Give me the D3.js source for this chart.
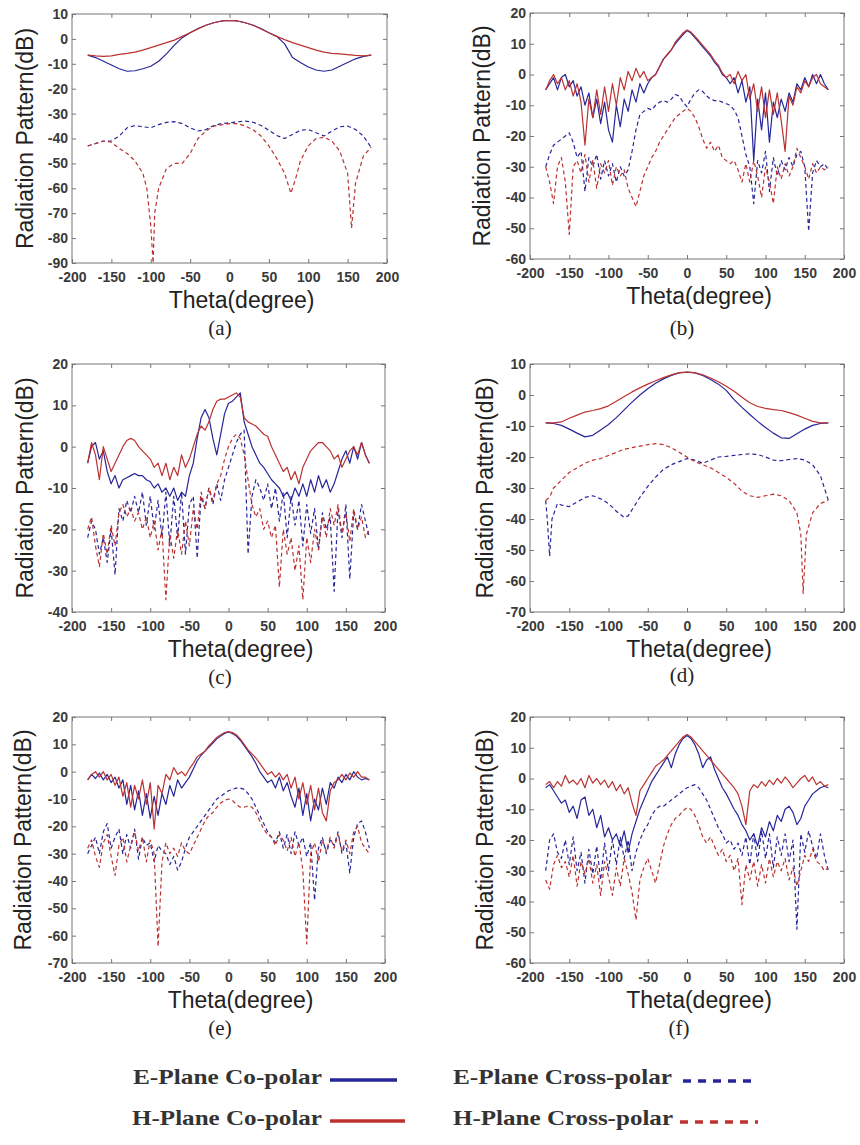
<!DOCTYPE html>
<html><head><meta charset="utf-8">
<script src="https://cdn.jsdelivr.net/npm/d3@7/dist/d3.min.js"></script>
<style>body{margin:0;background:#fff}</style></head>
<body><svg id="chart" width="860" height="1145"></svg>
<script>
// ---------- DATA ----------
const xTicks = [-200,-150,-100,-50,0,50,100,150,200];
const theta5 = [-180,-175,-170,-165,-160,-155,-150,-145,-140,-135,-130,-125,-120,-115,-110,-105,-100,-95,-90,-85,-80,-75,-70,-65,-60,-55,-50,-45,-40,-35,-30,-25,-20,-15,-10,-5,0,5,10,15,20,25,30,35,40,45,50,55,60,65,70,75,80,85,90,95,100,105,110,115,120,125,130,135,140,145,150,155,160,165,170,175,180];
const seriesNames = ['E-Plane Co-polar','H-Plane Co-polar','E-Plane Cross-polar','H-Plane Cross-polar'];
const captions = ['(a)','(b)','(c)','(d)','(e)','(f)'];
const yRanges = [[-90,10],[-60,20],[-40,20],[-70,10],[-70,20],[-60,20]];

// (a) [theta, dB]
const a_Eco = [[-180,-6.5],[-170,-7.5],[-160,-9],[-150,-10.5],[-140,-12],[-130,-13],[-120,-12.8],[-110,-12],[-100,-11],[-90,-9],[-80,-6],[-70,-2.5],[-60,0.5],[-50,2.5],[-40,4.2],[-30,5.5],[-20,6.5],[-10,7.2],[0,7.4],[10,7.2],[20,6.5],[30,5.5],[40,4.2],[50,2.5],[60,1],[70,-2],[80,-7.5],[90,-9.5],[100,-11.3],[110,-12.5],[120,-13],[130,-12.5],[140,-11],[150,-9.5],[160,-8],[170,-7],[180,-6.5]];
const a_Hco = [[-180,-6.5],[-170,-6.8],[-160,-7],[-150,-6.8],[-140,-6.2],[-130,-5.8],[-120,-5.3],[-110,-4.5],[-100,-3.5],[-90,-2.5],[-80,-1.5],[-70,-0.5],[-60,1],[-50,2.5],[-40,4],[-30,5.5],[-20,6.5],[-10,7.2],[0,7.4],[10,7.2],[20,6.5],[30,5.5],[40,4],[50,2.5],[60,1],[70,-0.3],[80,-1.5],[90,-2.5],[100,-3.5],[110,-4.5],[120,-5.3],[130,-5.8],[140,-6],[150,-6.3],[160,-6.6],[170,-6.8],[180,-6.5]];
const a_Ex = [[-180,-43],[-170,-42],[-160,-41],[-150,-41],[-140,-39],[-130,-35.7],[-120,-34.8],[-110,-35.3],[-100,-35.7],[-90,-34.4],[-80,-33.5],[-70,-33.2],[-60,-34],[-50,-35.7],[-40,-37],[-30,-36.4],[-20,-34.8],[-10,-34],[0,-33.7],[10,-33.3],[20,-33],[30,-33.5],[40,-34.8],[50,-36.7],[60,-38.8],[70,-40],[80,-38.4],[90,-36.7],[100,-36.4],[110,-37.7],[120,-39],[130,-37],[140,-35.3],[150,-35],[160,-36.4],[170,-39],[180,-43.7]];
const a_Hx = [[-180,-43],[-170,-42],[-160,-41],[-150,-41.5],[-140,-44],[-130,-46],[-120,-49],[-110,-54],[-105,-60],[-100,-75],[-97,-90],[-95,-70],[-90,-60],[-80,-52],[-70,-50],[-60,-50],[-50,-46],[-40,-40],[-30,-37],[-20,-35],[-10,-34.5],[0,-34],[10,-34],[20,-35],[30,-36.5],[40,-39],[50,-43],[60,-48],[70,-54],[78,-62],[85,-55],[90,-49],[100,-43],[110,-40],[120,-39.5],[130,-41],[140,-45],[150,-54],[155,-76],[160,-58],[170,-47],[180,-43.5]];

// (b) values on theta5
const b_Eco = [-5,-3,-1,-5,-1,0,-4,-2,-7, -4,-10,-6,-14,-8,-16,-9,-18,-22, -10,-17,-8,-12,-5,-9,-3,-6,-3, -1,0,2.5,5,6.5,8,10,11.5,13, 14.3,13.5,12,10.5,9,7.5,6,4,2.5, 0,-1,-3,-1,-6,-2,-9,-4,-28, -8,-18,-6,-22,-9,-14,-8,-12,-6, -9,-3,-5,-1,-4,0,-3,0,-3, -5];
const b_Hco = [-5,-2,0,-3,-1,-5,-2,-7,-3, -9,-23,-8,-14,-5,-13,-4,-12,-3, -10,-1,-5,1,-2,2,-1,1,-2, -1,0,2.5,5,6.5,8,10.5,12,13.5, 14.5,13.8,12.5,11,9.5,8,6.5,4.5,3, 0.5,-1,0,-3,1,-2,0,-8,-3, -12,-4,-14,-5,-13,-6,-15,-25,-7, -10,-4,-6,-2,-4,-1,0,-3,-4, -5];
const b_Ex = [-30,-26,-23,-22,-21,-20,-19,-22,-27, -25,-38,-27,-30,-26,-34,-28,-33,-29, -35,-30,-33,-31,-25,-18,-13,-12,-11, -11.5,-10,-9,-8.5,-9,-8,-6.5,-7,-9, -10.5,-8,-6,-5,-5.5,-7,-8,-8.5,-8.5, -9,-9.5,-10,-11.5,-14,-20,-26,-30,-42, -28,-32,-25,-38,-27,-33,-28,-31,-27, -30,-26,-25,-30,-51,-32,-28,-30,-29, -31];
const b_Hx = [-30,-35,-42,-30,-27,-35,-52,-30,-28, -32,-26,-35,-28,-37,-29,-32,-28,-36, -30,-33,-31,-37,-40,-43,-38,-33,-30, -27,-25,-22,-20,-18,-16,-14,-13,-12, -11,-12,-14,-17,-21,-24,-22,-25,-23, -27,-28,-29,-28,-31,-35,-29,-35,-28, -33,-40,-30,-35,-42,-30,-34,-29,-33, -30,-24,-27,-30,-34,-29,-32,-30,-31, -30];

// (c)
const c_Eco = [-4,0,1,-3,-1,-6,-9,-7,-10, -8,-7.5,-7,-6.5,-7,-7,-8,-8.5,-10, -9,-11,-10,-12,-10,-13,-11,-12,-7, -4,2,7,9,7,2,-2,3,8, 10.5,11,12,13,6,3,0,-2,-4, -5,-6.5,-8,-9,-10,-12,-11,-13,-10, -12,-9,-12,-8,-11,-7,-10,-8,-11, -9,-6,-3,-1,-4,0,-3,1,-2, -4];
const c_Hco = [-4,1,-2,-8,0,-3,-6,-4,-2, 0,1.5,2,1.5,0,-1,-2,-3,-5, -4,-7,-4,-8,-5,-7,-2,-5,-3, 0,3,5,4,6,9,11,11.5,11.5, 12,12.5,13,12,7,6,5.5,5,4, 3,2.5,0,-2,-4,-6,-5,-8,-6, -9,-5,-3,-1,0,1,1,0,-1, -3,-2,-5,-3,-1,0,-2,1,-2, -4];
const c_Ex = [-22,-18,-20,-26,-22,-28,-20,-31,-15, -18,-13,-16,-12,-16,-11,-19,-12,-20, -13,-22,-11,-24,-12,-22,-11,-26,-14, -12,-27,-12,-15,-10,-14,-9,-13,-8, -5,-2,1,3,4,-26,-12,-8,-10, -13,-9,-15,-10,-18,-11,-22,-12,-19, -13,-24,-14,-21,-15,-25,-16,-20,-17, -35,-15,-22,-14,-32,-16,-20,-14,-18, -22];
const c_Hx = [-20,-17,-24,-29,-21,-26,-19,-24,-16, -14,-17,-15,-18,-16,-20,-17,-22,-18, -25,-20,-37,-21,-27,-20,-26,-18,-24, -15,-20,-11,-15,-10,-13,-9,-7,-3, 0,2,3,2,-2,-8,-14,-17,-15, -20,-18,-22,-19,-34,-20,-26,-22,-30, -24,-37,-22,-28,-20,-25,-17,-22,-15, -19,-14,-21,-16,-23,-15,-20,-17,-22, -20];

// (d) [theta, dB]
const d_Eco = [[-180,-9],[-170,-9.2],[-160,-9.8],[-150,-11],[-140,-12.3],[-130,-13.5],[-120,-13],[-110,-11.3],[-100,-9.5],[-90,-7.3],[-80,-4.8],[-70,-2.3],[-60,0],[-50,2],[-40,3.8],[-30,5.2],[-20,6.3],[-10,7.1],[0,7.4],[10,7.1],[20,6.3],[30,5],[40,3.5],[50,1.5],[60,-1.5],[70,-4],[80,-6.3],[90,-8.5],[100,-10.5],[110,-12.3],[120,-13.8],[130,-14],[140,-12.5],[150,-11],[160,-9.8],[170,-9.2],[180,-9]];
const d_Hco = [[-180,-9],[-170,-9],[-160,-8.7],[-150,-7.5],[-140,-6.5],[-130,-5.5],[-120,-5],[-110,-4.4],[-100,-3.5],[-90,-2],[-80,-0.5],[-70,1],[-60,2.3],[-50,3.5],[-40,4.6],[-30,5.6],[-20,6.5],[-10,7.2],[0,7.4],[10,7.2],[20,6.5],[30,5.5],[40,4.3],[50,2.8],[60,1.2],[70,-0.7],[80,-2.5],[90,-3.7],[100,-4.3],[110,-4.7],[120,-5],[130,-5.7],[140,-6.5],[150,-7.5],[160,-8.5],[170,-9],[180,-9]];
const d_Ex = [[-180,-34],[-178,-40],[-175,-52],[-172,-40],[-165,-35],[-160,-35.5],[-150,-36],[-140,-34.5],[-130,-33],[-120,-32.5],[-110,-33.5],[-100,-35],[-90,-37.5],[-80,-39.5],[-75,-39],[-70,-37],[-60,-33],[-50,-29.5],[-40,-26.5],[-30,-24],[-20,-22.5],[-10,-21.5],[0,-20.5],[10,-21],[20,-22],[30,-21],[40,-20],[50,-19.8],[60,-19.5],[70,-19.2],[80,-19],[90,-19.2],[100,-20],[110,-21],[120,-21.2],[130,-20.8],[140,-20.5],[150,-21],[160,-22.5],[170,-26],[175,-30],[180,-34]];
const d_Hx = [[-180,-34],[-175,-33],[-170,-30],[-160,-27.5],[-150,-25],[-140,-23.5],[-130,-22],[-120,-21],[-110,-20.5],[-100,-19.5],[-90,-18.5],[-80,-17.5],[-70,-17],[-60,-16.5],[-50,-16],[-40,-15.7],[-30,-16],[-20,-17],[-10,-18.5],[0,-20],[10,-21.5],[20,-22.5],[30,-23.5],[40,-25],[50,-26.5],[60,-28.5],[70,-31],[80,-32.5],[90,-33],[100,-32.5],[110,-32],[120,-32.5],[130,-34],[140,-38],[145,-45],[148,-64],[152,-45],[160,-38],[170,-35],[180,-34]];

// (e)
const e_Eco = [-3,-1,-2.5,-0.5,-3,-1,-4,-2,-6, -3,-12,-5,-14,-7,-16,-8,-17,-9, -16,-8,-12,-5,-9,-3,-6,-4,-2, 1,4,6,7.5,9,10.5,12,13,14, 14.5,14,13,11.5,9.5,7.5,5.5,3,0, -2,-4,-3,-6,-2,-7,-4,-9,-13, -6,-16,-8,-18,-10,-14,-6,-12,-4, -6,-2,-4,-1,-3,0,-2,-3,-2.5, -3];
const e_Hco = [-3,-1,0,-2,0,-3,-1,-5,-2, -9,-4,-13,-5,-10,-3,-12,-4,-21, -5,-8,-1,-3,1.5,-1,0,-1.5,1, 3,5.5,6.5,7.5,9.5,11,12.5,13.5,14.3, 14.7,14.3,13.5,12,10,8,6.5,5,3, 1,-1,0,-2,-0.5,-3,-1,-6,-2, -10,-4,-12,-5,-14,-6,-15,-18,-7, -4,-3,-1,-3,-0.5,-2,0,-2,-2, -3];
const e_Ex = [-30,-27,-24,-30,-22,-19,-28,-24,-21, -30,-23,-28,-21,-32,-24,-27,-26,-33, -27,-29,-30,-34,-31,-36,-33,-28,-24, -22,-20,-18,-16,-14,-12,-10,-9,-8, -7,-6.5,-6,-6,-6.5,-8,-10,-13,-16, -19,-22,-24,-26,-22,-28,-23,-30,-22, -27,-24,-31,-26,-47,-28,-24,-30,-25, -27,-22,-30,-26,-37,-24,-19,-18,-22, -28];
const e_Hx = [-28,-25,-31,-35,-26,-23,-31,-38,-27, -24,-33,-27,-22,-29,-24,-33,-25,-30, -64,-33,-26,-30,-28,-31,-26,-29,-30, -27,-24,-21,-18,-16,-15,-13,-11.5,-10.5, -10,-10.5,-12,-13,-13,-12.5,-13,-15,-18, -21,-23,-24,-27,-23,-25,-29,-24,-31, -26,-36,-63,-30,-26,-33,-25,-29,-24, -28,-23,-29,-25,-30,-22,-20,-26,-28, -30];

// (f)
const f_Eco = [-3,-2,-4,-6,-8,-7,-11,-9,-13, -7,-6,-12,-10,-16,-12,-19,-16,-20, -18,-22,-17,-24,-18,-14,-10,-7,-4, -1,1,3,5,7,3.5,8,11,13, 14,13,11,8,3.5,6,7,3,0, -3,-5,-7.5,-10,-12,-15,-17,-20,-18, -22,-16,-19,-14,-17,-12,-14,-10,-9, -11,-15,-13,-9,-7,-5,-4,-3,-2.5, -3];
const f_Hco = [-2,-1,-3,-1,-2.5,1,-1.5,-0.5,-2, 0,-3,1,-1.5,0,-2,-0.5,-3,-1, -4,-2,-5,-3,-8,-12,-4,-2,0, 2,4,5,6,7.5,9,10.5,12,13.5, 14.3,13.5,12,10.5,9,7.5,6,4.5,3, 1.5,0,-1.5,-3,-5,-9,-15,-4,-2, -3,-1,-2.5,-0.5,-2,0,-1.5,0.5,-1, -3,-1.5,0,1,-1,0.5,-2,-1,-2.5, -2];
const f_Ex = [-30,-20,-18,-24,-26,-20,-28,-19,-30, -24,-34,-23,-31,-22,-33,-21,-30,-20, -28,-19,-26,-20,-30,-24,-20,-17,-15, -12,-10,-9,-9,-8,-7,-6,-5,-4, -3,-2.5,-2,-3,-5,-7,-10,-13,-16, -18,-21,-20,-23,-21,-25,-19,-28,-18, -27,-17,-26,-18,-29,-19,-25,-18,-27, -20,-49,-18,-24,-17,-22,-26,-18,-25, -30];
const f_Hx = [-33,-36,-28,-25,-29,-27,-32,-25,-35, -27,-31,-26,-34,-28,-38,-27,-32,-38, -29,-35,-26,-31,-37,-46,-33,-29,-26, -30,-34,-28,-22,-18,-15,-13,-12,-10.5, -9.5,-10,-12,-15,-19,-21,-19,-22,-25, -23,-27,-25,-30,-26,-41,-28,-33,-27, -35,-28,-34,-26,-32,-27,-30,-26,-33, -29,-35,-30,-25,-27,-23,-27,-28,-30, -29];

// ---------- LAYOUT / STYLE ----------
const onGrid = v => d3.zip(theta5, v);
const panelData = [
  [a_Eco, a_Hco, a_Ex, a_Hx],
  [onGrid(b_Eco), onGrid(b_Hco), onGrid(b_Ex), onGrid(b_Hx)],
  [onGrid(c_Eco), onGrid(c_Hco), onGrid(c_Ex), onGrid(c_Hx)],
  [d_Eco, d_Hco, d_Ex, d_Hx],
  [onGrid(e_Eco), onGrid(e_Hco), onGrid(e_Ex), onGrid(e_Hx)],
  [onGrid(f_Eco), onGrid(f_Hco), onGrid(f_Ex), onGrid(f_Hx)]
];
const boxes = [
  {x0:72, x1:387, y0:14, y1:263, ylx:25, capX:220, capY:328},
  {x0:530,x1:844, y0:13, y1:259, ylx:482, capX:682, capY:328},
  {x0:72, x1:385, y0:364,y1:612, ylx:25, capX:220, capY:677},
  {x0:530,x1:844, y0:364,y1:612, ylx:485, capX:682, capY:675},
  {x0:72, x1:385, y0:717,y1:963, ylx:23, capX:220, capY:1028},
  {x0:530,x1:844, y0:717,y1:963, ylx:485, capX:679, capY:1028}
];
const BLUE = '#26269a', RED = '#bb3230';
const styles = [
  {color:BLUE, dash:null},
  {color:RED, dash:null},
  {color:BLUE, dash:'4,3'},
  {color:RED, dash:'4,3'}
];
const drawOrder = [2,3,0,1];
const fmt = d => String(d);

const svg = d3.select('#chart');
svg.append('rect').attr('width',860).attr('height',1145).attr('fill','#fff');

boxes.forEach((b,i)=>{
  const g = svg.append('g');
  const [ymin,ymax] = yRanges[i];
  const x = d3.scaleLinear().domain([-200,200]).range([b.x0,b.x1]);
  const y = d3.scaleLinear().domain([ymin,ymax]).range([b.y1,b.y0]);
  const yTicks = d3.range(ymin, ymax+0.001, 10);

  const fontTick = '"Liberation Sans", Arial, sans-serif';
  const styleAxis = (sel)=>{
    sel.select('.domain').remove();
    sel.selectAll('line').attr('stroke','#777');
    sel.selectAll('text').attr('font-family',fontTick).attr('font-size',14)
      .attr('font-weight','bold').attr('fill','#3a3a3a');
  };
  g.append('g').attr('transform',`translate(0,${b.y1})`)
    .call(d3.axisBottom(x).tickValues(xTicks).tickSize(-4).tickPadding(9).tickFormat(fmt))
    .call(styleAxis);
  g.append('g').attr('transform',`translate(0,${b.y0})`)
    .call(d3.axisTop(x).tickValues(xTicks).tickSize(-4).tickFormat(''))
    .call(styleAxis);
  g.append('g').attr('transform',`translate(${b.x0},0)`)
    .call(d3.axisLeft(y).tickValues(yTicks).tickSize(-4).tickPadding(4).tickFormat(fmt))
    .call(styleAxis);
  g.append('g').attr('transform',`translate(${b.x1},0)`)
    .call(d3.axisRight(y).tickValues(yTicks).tickSize(-4).tickFormat(''))
    .call(styleAxis);

  const line = d3.line().x(d=>x(d[0])).y(d=>y(d[1]));
  drawOrder.forEach(k=>{
    const s = styles[k];
    g.append('path').datum(panelData[i][k])
      .attr('d',line).attr('fill','none')
      .attr('stroke',s.color).attr('stroke-width',1.2)
      .attr('stroke-dasharray',s.dash).attr('stroke-linejoin','round');
  });

  g.append('rect').attr('x',b.x0).attr('y',b.y0)
    .attr('width',b.x1-b.x0).attr('height',b.y1-b.y0)
    .attr('fill','none').attr('stroke','#777').attr('stroke-width',1);

  g.append('text').attr('x',(b.x0+b.x1)/2+12).attr('y',b.y1+37).attr('dy','0.35em')
    .attr('text-anchor','middle').attr('font-family',fontTick).attr('font-size',23)
    .attr('fill','#222').text('Theta(degree)');
  g.append('text').attr('transform',`translate(${b.ylx},${(b.y0+b.y1)/2}) rotate(-90)`)
    .attr('dy','0.35em').attr('text-anchor','middle').attr('font-family',fontTick)
    .attr('font-size',23).attr('fill','#222').text('Radiation Pattern(dB)');
  g.append('text').attr('x',b.capX).attr('y',b.capY).attr('dy','0.35em')
    .attr('text-anchor','middle').attr('font-family','"Liberation Serif", "Times New Roman", serif')
    .attr('font-size',21).attr('fill','#222').text(captions[i]);
});

// ---------- LEGEND ----------
const legendPos = [
  {tx:133, tl:189, ty:1084, lx0:330, lx1:397, ly:1080},
  {tx:132, tl:190, ty:1125, lx0:330, lx1:405, ly:1121},
  {tx:453, tl:219, ty:1084, lx0:683, lx1:753, ly:1081},
  {tx:453, tl:220, ty:1125, lx0:680, lx1:758, ly:1122}
];
seriesNames.forEach((name,k)=>{
  const p = legendPos[k], s = styles[k];
  svg.append('text').attr('x',p.tx).attr('y',p.ty)
    .attr('font-family','"Liberation Serif", "Times New Roman", serif')
    .attr('font-weight','bold').attr('font-size',22).attr('fill','#333')
    .attr('textLength',p.tl).attr('lengthAdjust','spacingAndGlyphs').text(name);
  svg.append('line').attr('x1',p.lx0).attr('x2',p.lx1).attr('y1',p.ly).attr('y2',p.ly)
    .attr('stroke',s.color).attr('stroke-width',3.5)
    .attr('stroke-dasharray', s.dash ? '8,7' : null);
});
</script>
</body></html>
